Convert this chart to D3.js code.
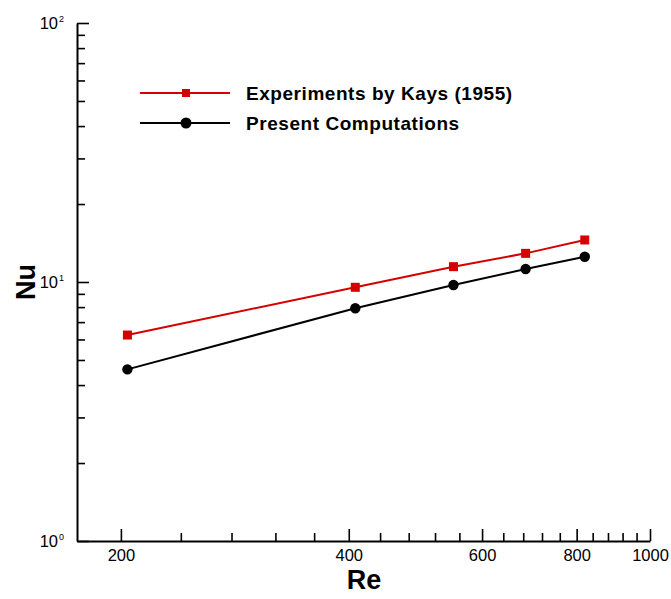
<!DOCTYPE html>
<html><head><meta charset="utf-8">
<script src="https://cdn.jsdelivr.net/npm/d3@7"></script>
<style>body{margin:0;background:#fff}svg{display:block}</style>
</head><body>
<svg id="c" width="671" height="599"></svg>
<script>
const reynolds = [204, 408, 550, 685, 820];
const nuKays = [6.24, 9.54, 11.46, 12.9, 14.53];
const nuPresent = [4.60, 7.92, 9.74, 11.22, 12.52];
const xMajorTicks = [200, 400, 600, 800, 1000];
const xMinorTicks = [240,280,320,360,440,480,520,560,640,680,720,760,840,880,920,960];
const yMajorTicks = [1, 10, 100];
const yMinorTicks = [2,3,4,5,6,7,8,9,20,30,40,50,60,70,80,90];
const seriesNames = ["Experiments by Kays (1955)", "Present Computations"];
const seriesColors = ["#d40000", "#000000"];

const svg = d3.select("#c");
const x = d3.scaleLog().domain([175, 1000]).range([77, 650]);
const y = d3.scaleLog().domain([1, 100]).range([541, 23]);
const font = "'Liberation Sans', Arial, sans-serif";

// x axis
const gx = svg.append("g").attr("transform", "translate(0,541)");
gx.call(d3.axisBottom(x).tickValues(xMajorTicks).tickFormat(d3.format("d"))
  .tickSizeInner(-12).tickSizeOuter(0).tickPadding(8));
gx.append("g").call(d3.axisBottom(x).tickValues(xMinorTicks).tickFormat("")
  .tickSizeInner(-8).tickSizeOuter(0)).select(".domain").remove();
gx.selectAll("text").attr("font-family", font).attr("font-size", 16.5).attr("fill", "#000");
gx.selectAll("line").attr("stroke", "#000").attr("stroke-width", 1.6);
gx.select(".domain").attr("stroke", "#000").attr("stroke-width", 2);

// y axis
const gy = svg.append("g").attr("transform", "translate(77,0)");
gy.call(d3.axisLeft(y).tickValues(yMajorTicks).tickFormat("")
  .tickSizeInner(-12).tickSizeOuter(0).tickPadding(13));
gy.append("g").call(d3.axisLeft(y).tickValues(yMinorTicks).tickFormat("")
  .tickSizeInner(-8).tickSizeOuter(0)).select(".domain").remove();
gy.selectAll("line").attr("stroke", "#000").attr("stroke-width", 1.6);
gy.select(".domain").attr("stroke", "#000").attr("stroke-width", 2);
gy.selectAll(".tick text").filter(function(){return this.parentNode.parentNode === gy.node();})
  .each(function(d){
    const t = d3.select(this).attr("font-family", font).attr("font-size", 16.5).attr("fill", "#000").text("10");
    t.append("tspan").attr("font-size", 9).attr("dx", 1).attr("dy", "-0.75em").text(Math.round(Math.log10(d)));
  });

// series
const line = d3.line().x(d => x(d[0])).y(d => y(d[1]));
const series = [nuKays, nuPresent];
series.forEach((vals, i) => {
  const pts = reynolds.map((r, j) => [r, vals[j]]);
  svg.append("path").datum(pts).attr("d", line).attr("fill", "none")
    .attr("stroke", seriesColors[i]).attr("stroke-width", 2);
  if (i === 0) {
    svg.selectAll(null).data(pts).enter().append("rect")
      .attr("x", d => x(d[0]) - 4.5).attr("y", d => y(d[1]) - 4.5)
      .attr("width", 9).attr("height", 9).attr("fill", seriesColors[i]);
  } else {
    svg.selectAll(null).data(pts).enter().append("circle")
      .attr("cx", d => x(d[0])).attr("cy", d => y(d[1])).attr("r", 5.2)
      .attr("fill", seriesColors[i]);
  }
});

// legend
const leg = svg.append("g");
seriesNames.forEach((name, i) => {
  const ly = 93 + i * 30;
  leg.append("line").attr("x1", 140).attr("x2", 230).attr("y1", ly).attr("y2", ly)
    .attr("stroke", seriesColors[i]).attr("stroke-width", 2);
  if (i === 0) leg.append("rect").attr("x", 182).attr("y", ly - 4).attr("width", 8).attr("height", 8).attr("fill", seriesColors[i]);
  else leg.append("circle").attr("cx", 186).attr("cy", ly).attr("r", 5.5).attr("fill", seriesColors[i]);
  leg.append("text").attr("x", 246).attr("y", ly + 7).attr("font-family", font)
    .attr("font-weight", "bold").attr("font-size", 19).attr("letter-spacing", 0.55)
    .attr("fill", "#000").text(name);
});

// axis titles
svg.append("text").attr("x", 364).attr("y", 589).attr("text-anchor", "middle")
  .attr("font-family", font).attr("font-weight", "bold").attr("font-size", 27).text("Re");
svg.append("text").attr("transform", "translate(35,282) rotate(-90)").attr("text-anchor", "middle")
  .attr("font-family", font).attr("font-weight", "bold").attr("font-size", 27).text("Nu");
</script>
</body></html>
